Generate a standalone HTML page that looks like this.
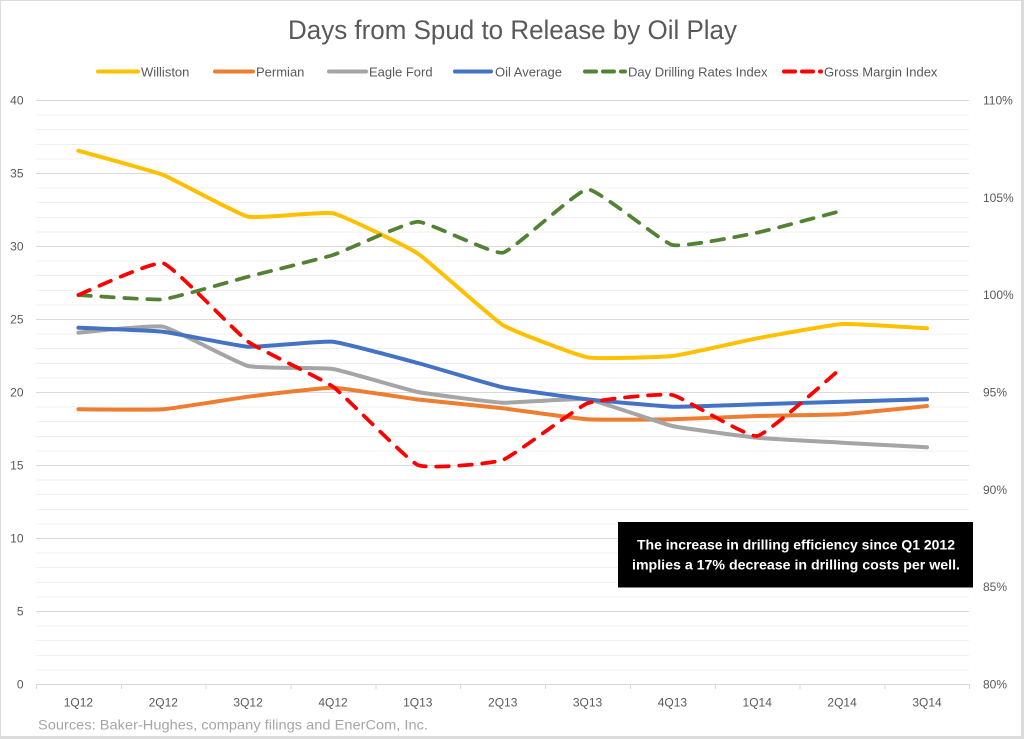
<!DOCTYPE html>
<html><head><meta charset="utf-8">
<style>
html,body{margin:0;padding:0;background:#dcdcdc;}
svg{display:block;}
text{font-family:"Liberation Sans",sans-serif;}
</style></head>
<body>
<svg id="c" width="1024" height="739" viewBox="0 0 1024 739" xmlns="http://www.w3.org/2000/svg">
<rect x="0" y="0" width="1024" height="739" fill="#dcdcdc"/>
<rect x="1" y="1" width="1020" height="735" fill="#ffffff"/>

<!-- title -->
<text x="288" y="39" font-size="27" fill="#595959" textLength="449" lengthAdjust="spacingAndGlyphs">Days from Spud to Release by Oil Play</text>

<!-- legend -->
<g stroke-width="4" stroke-linecap="round" fill="none">
<line x1="98" y1="71.5" x2="138" y2="71.5" stroke="#FFC000"/>
<line x1="215" y1="71.5" x2="253" y2="71.5" stroke="#ED7D31"/>
<line x1="329" y1="71.5" x2="366" y2="71.5" stroke="#A5A5A5"/>
<line x1="455" y1="71.5" x2="491" y2="71.5" stroke="#4472C4"/>
<line x1="585" y1="71.5" x2="625" y2="71.5" stroke="#548235" stroke-dasharray="11 7"/>
<line x1="784" y1="71.5" x2="821" y2="71.5" stroke="#FF0000" stroke-dasharray="11 7"/>
</g>
<g font-size="13" fill="#595959">
<text x="141" y="76.5">Williston</text>
<text x="256" y="76.5">Permian</text>
<text x="369" y="76.5">Eagle Ford</text>
<text x="495" y="76.5">Oil Average</text>
<text x="628" y="76.5">Day Drilling Rates Index</text>
<text x="824" y="76.5">Gross Margin Index</text>
</g>

<!-- gridlines -->
<g id="grid" stroke-width="1" shape-rendering="crispEdges">
<line x1="36" x2="969" y1="100.5" y2="100.5" stroke="#d9d9d9"/>
<line x1="36" x2="969" y1="115.1" y2="115.1" stroke="#f0f0f0"/>
<line x1="36" x2="969" y1="129.7" y2="129.7" stroke="#f0f0f0"/>
<line x1="36" x2="969" y1="144.3" y2="144.3" stroke="#f0f0f0"/>
<line x1="36" x2="969" y1="158.9" y2="158.9" stroke="#f0f0f0"/>
<line x1="36" x2="969" y1="173.5" y2="173.5" stroke="#d9d9d9"/>
<line x1="36" x2="969" y1="188.1" y2="188.1" stroke="#f0f0f0"/>
<line x1="36" x2="969" y1="202.7" y2="202.7" stroke="#f0f0f0"/>
<line x1="36" x2="969" y1="217.3" y2="217.3" stroke="#f0f0f0"/>
<line x1="36" x2="969" y1="231.9" y2="231.9" stroke="#f0f0f0"/>
<line x1="36" x2="969" y1="246.5" y2="246.5" stroke="#d9d9d9"/>
<line x1="36" x2="969" y1="261.1" y2="261.1" stroke="#f0f0f0"/>
<line x1="36" x2="969" y1="275.7" y2="275.7" stroke="#f0f0f0"/>
<line x1="36" x2="969" y1="290.3" y2="290.3" stroke="#f0f0f0"/>
<line x1="36" x2="969" y1="304.9" y2="304.9" stroke="#f0f0f0"/>
<line x1="36" x2="969" y1="319.5" y2="319.5" stroke="#d9d9d9"/>
<line x1="36" x2="969" y1="334.1" y2="334.1" stroke="#f0f0f0"/>
<line x1="36" x2="969" y1="348.7" y2="348.7" stroke="#f0f0f0"/>
<line x1="36" x2="969" y1="363.3" y2="363.3" stroke="#f0f0f0"/>
<line x1="36" x2="969" y1="377.9" y2="377.9" stroke="#f0f0f0"/>
<line x1="36" x2="969" y1="392.5" y2="392.5" stroke="#d9d9d9"/>
<line x1="36" x2="969" y1="407.1" y2="407.1" stroke="#f0f0f0"/>
<line x1="36" x2="969" y1="421.7" y2="421.7" stroke="#f0f0f0"/>
<line x1="36" x2="969" y1="436.3" y2="436.3" stroke="#f0f0f0"/>
<line x1="36" x2="969" y1="450.9" y2="450.9" stroke="#f0f0f0"/>
<line x1="36" x2="969" y1="465.5" y2="465.5" stroke="#d9d9d9"/>
<line x1="36" x2="969" y1="480.1" y2="480.1" stroke="#f0f0f0"/>
<line x1="36" x2="969" y1="494.7" y2="494.7" stroke="#f0f0f0"/>
<line x1="36" x2="969" y1="509.3" y2="509.3" stroke="#f0f0f0"/>
<line x1="36" x2="969" y1="523.9" y2="523.9" stroke="#f0f0f0"/>
<line x1="36" x2="969" y1="538.5" y2="538.5" stroke="#d9d9d9"/>
<line x1="36" x2="969" y1="553.1" y2="553.1" stroke="#f0f0f0"/>
<line x1="36" x2="969" y1="567.7" y2="567.7" stroke="#f0f0f0"/>
<line x1="36" x2="969" y1="582.3" y2="582.3" stroke="#f0f0f0"/>
<line x1="36" x2="969" y1="596.9" y2="596.9" stroke="#f0f0f0"/>
<line x1="36" x2="969" y1="611.5" y2="611.5" stroke="#d9d9d9"/>
<line x1="36" x2="969" y1="626.1" y2="626.1" stroke="#f0f0f0"/>
<line x1="36" x2="969" y1="640.7" y2="640.7" stroke="#f0f0f0"/>
<line x1="36" x2="969" y1="655.3" y2="655.3" stroke="#f0f0f0"/>
<line x1="36" x2="969" y1="669.9" y2="669.9" stroke="#f0f0f0"/>
<line x1="36" x2="969" y1="684.5" y2="684.5" stroke="#d9d9d9"/>
</g>
<!-- x ticks -->
<g stroke="#d9d9d9" stroke-width="1" shape-rendering="crispEdges">
<line x1="36.5" y1="684" x2="36.5" y2="689"/>
<line x1="121.3" y1="684" x2="121.3" y2="689"/>
<line x1="206.2" y1="684" x2="206.2" y2="689"/>
<line x1="291" y1="684" x2="291" y2="689"/>
<line x1="375.9" y1="684" x2="375.9" y2="689"/>
<line x1="460.7" y1="684" x2="460.7" y2="689"/>
<line x1="545.6" y1="684" x2="545.6" y2="689"/>
<line x1="630.4" y1="684" x2="630.4" y2="689"/>
<line x1="715.3" y1="684" x2="715.3" y2="689"/>
<line x1="800.1" y1="684" x2="800.1" y2="689"/>
<line x1="885" y1="684" x2="885" y2="689"/>
<line x1="969.5" y1="684" x2="969.5" y2="689"/>
</g>

<!-- left axis labels -->
<g font-size="12" fill="#595959" text-anchor="end">
<text x="23.5" y="104.5">40</text>
<text x="23.5" y="177.5">35</text>
<text x="23.5" y="250.5">30</text>
<text x="23.5" y="323.5">25</text>
<text x="23.5" y="396.5">20</text>
<text x="23.5" y="469.5">15</text>
<text x="23.5" y="542.5">10</text>
<text x="23.5" y="615.5">5</text>
<text x="23.5" y="688.5">0</text>
</g>
<!-- right axis labels -->
<g font-size="12" fill="#595959">
<text x="983" y="104.5">110%</text>
<text x="983" y="201.8">105%</text>
<text x="983" y="299.2">100%</text>
<text x="983" y="396.5">95%</text>
<text x="983" y="493.8">90%</text>
<text x="983" y="591.2">85%</text>
<text x="983" y="688.5">80%</text>
</g>
<!-- x labels -->
<g font-size="12" fill="#595959" text-anchor="middle">
<text x="78.4" y="706.5">1Q12</text>
<text x="163.3" y="706.5">2Q12</text>
<text x="248.1" y="706.5">3Q12</text>
<text x="333" y="706.5">4Q12</text>
<text x="417.8" y="706.5">1Q13</text>
<text x="502.7" y="706.5">2Q13</text>
<text x="587.5" y="706.5">3Q13</text>
<text x="672.4" y="706.5">4Q13</text>
<text x="757.2" y="706.5">1Q14</text>
<text x="842.1" y="706.5">2Q14</text>
<text x="927" y="706.5">3Q14</text>
</g>

<!-- series -->
<g fill="none" stroke-linejoin="round" stroke-linecap="round">
<path id="s1" stroke="#FFC000" stroke-width="4" d="M78.4,150.7 L163.3,175 L248.1,216.7 L333,213.3 L417.8,253.5 L502.7,325 L587.5,357.3 L672.4,356 L757.2,338.3 L842.1,324 L927,328.3"/>
<path id="s2" stroke="#ED7D31" stroke-width="4" d="M78.4,409.3 L163.3,409.3 L248.1,396.7 L333,387.7 L417.8,399.5 L502.7,408.3 L587.5,419.3 L672.4,419.3 L757.2,416 L842.1,414.3 L927,406"/>
<path id="s3" stroke="#A5A5A5" stroke-width="4" d="M78.4,332.7 L163.3,326.7 L248.1,366 L333,369 L417.8,392 L502.7,402.7 L587.5,399.3 L672.4,426 L757.2,437.7 L842.1,442.7 L927,447.3"/>
<path id="s4" stroke="#4472C4" stroke-width="4" d="M78.4,327.7 L163.3,331.7 L248.1,346.7 L333,341.7 L417.8,363 L502.7,387.3 L587.5,399.3 L672.4,406.7 L757.2,404.3 L842.1,401.7 L927,399.3"/>
<path id="s5" stroke="#548235" stroke-width="3.75" stroke-dasharray="12.5 10.5" d="M78.4,295 L163.3,299.3 L248.1,276.7 L333,255 L417.8,221.7 L502.7,252.7 L587.5,189.3 L672.4,245 L757.2,232.7 L842.1,210.7"/>
<path id="s6" stroke="#FF0000" stroke-width="3.75" stroke-dasharray="12.5 10.5" d="M78.4,295 L163.3,263.3 L248.1,341.7 L333,386.7 L417.8,465 L502.7,460 L587.5,403.3 L672.4,395 L757.2,436 L842.1,367.3"/>
</g>

<!-- annotation -->
<rect x="618" y="522" width="355" height="65.5" fill="#000000"/>
<g font-size="14" font-weight="bold" fill="#ffffff">
<text x="637" y="549.5" textLength="318" lengthAdjust="spacingAndGlyphs">The increase in drilling efficiency since Q1 2012</text>
<text x="632" y="569.5" textLength="328" lengthAdjust="spacingAndGlyphs">implies a 17% decrease in drilling costs per well.</text>
</g>

<!-- sources -->
<text x="38" y="729.5" font-size="14" fill="#a6a6a6" textLength="390" lengthAdjust="spacingAndGlyphs">Sources: Baker-Hughes, company filings and EnerCom, Inc.</text>
</svg>
<script>
(function(){
  var t=0.06;
  ['s1','s2','s3','s4','s5','s6'].forEach(function(id){
    var el=document.getElementById(id);
    var d=el.getAttribute('d');
    var nums=d.replace(/[ML]/g,' ').trim().split(/[\s,]+/).map(Number);
    var p=[];for(var i=0;i<nums.length;i+=2)p.push([nums[i],nums[i+1]]);
    var s='M'+p[0][0]+','+p[0][1];
    for(var i=0;i<p.length-1;i++){
      var p0=p[i-1]||p[i],p1=p[i],p2=p[i+1],p3=p[i+2]||p[i+1];
      var c1x=p1[0]+(p2[0]-p0[0])*t,c1y=p1[1]+(p2[1]-p0[1])*t;
      var c2x=p2[0]-(p3[0]-p1[0])*t,c2y=p2[1]-(p3[1]-p1[1])*t;
      s+=' C'+c1x.toFixed(1)+','+c1y.toFixed(1)+' '+c2x.toFixed(1)+','+c2y.toFixed(1)+' '+p2[0]+','+p2[1];
    }
    el.setAttribute('d',s);
  });
})();
</script>
</body></html>
